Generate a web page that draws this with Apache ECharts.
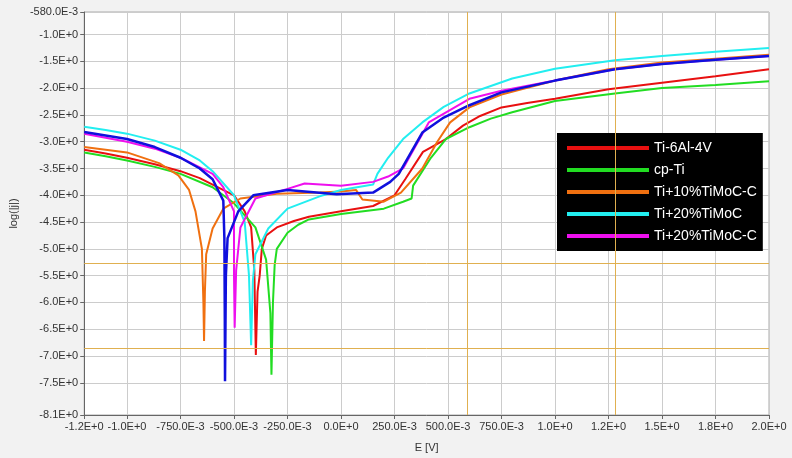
<!DOCTYPE html>
<html><head><meta charset="utf-8">
<script src="https://cdn.jsdelivr.net/npm/echarts@6/dist/echarts.min.js"></script>
<style>html,body{margin:0;padding:0;background:#e8e8e8}#c{width:792px;height:458px}</style>
</head><body><div id="c"></div>
<script>
const seriesNames = ['Ti-6Al-4V','cp-Ti','Ti+10%TiMoC-C','Ti+20%TiMoC','Ti+20%TiMoC-C'];
const colors = ['#e81010','#22dd22','#f07010','#22eef0','#ee10ee'];
const ti64 = [[-1.2,-3.15],[-1.1,-3.22],[-1.0,-3.3],[-0.87,-3.42],[-0.75,-3.55],[-0.66,-3.68],[-0.6,-3.8],[-0.5,-4.0],[-0.45,-4.3],[-0.42,-4.6],[-0.405,-5.4],[-0.398,-6.98],[-0.39,-5.8],[-0.38,-5.5],[-0.37,-5.0],[-0.35,-4.75],[-0.3,-4.6],[-0.22,-4.48],[-0.15,-4.4],[0,-4.3],[0.15,-4.2],[0.25,-4.0],[0.3,-3.7],[0.383,-3.19],[0.49,-2.95],[0.57,-2.7],[0.65,-2.52],[0.75,-2.36],[0.87,-2.28],[1.0,-2.2],[1.25,-2.02],[1.5,-1.9],[1.75,-1.78],[2.0,-1.65]];
const cpTi = [[-1.2,-3.2],[-1.1,-3.27],[-1.0,-3.35],[-0.87,-3.47],[-0.75,-3.6],[-0.6,-3.85],[-0.5,-4.15],[-0.4,-4.6],[-0.35,-5.2],[-0.33,-6.2],[-0.325,-7.35],[-0.318,-6.0],[-0.31,-5.3],[-0.3,-5.0],[-0.25,-4.7],[-0.2,-4.55],[-0.15,-4.45],[0,-4.35],[0.2,-4.25],[0.29,-4.12],[0.33,-4.06],[0.337,-3.82],[0.42,-3.3],[0.49,-2.95],[0.6,-2.73],[0.7,-2.57],[0.8,-2.45],[1.0,-2.24],[1.28,-2.1],[1.5,-2.0],[1.75,-1.94],[2.0,-1.87]];
const ti10 = [[-1.2,-3.1],[-1.0,-3.2],[-0.85,-3.4],[-0.76,-3.63],[-0.71,-3.9],[-0.68,-4.3],[-0.65,-5.0],[-0.643,-6.0],[-0.64,-6.72],[-0.636,-5.8],[-0.63,-5.1],[-0.6,-4.62],[-0.55,-4.25],[-0.47,-4.06],[-0.3,-3.97],[-0.1,-3.95],[0,-3.93],[0.07,-3.9],[0.1,-4.08],[0.2,-4.12],[0.28,-3.95],[0.38,-3.5],[0.45,-3.0],[0.51,-2.64],[0.6,-2.36],[0.75,-2.12],[1.0,-1.86],[1.25,-1.65],[1.5,-1.52],[1.75,-1.45],[2.0,-1.38]];
const ti20 = [[-1.2,-2.72],[-1.1,-2.78],[-1.0,-2.85],[-0.87,-2.98],[-0.75,-3.15],[-0.66,-3.35],[-0.6,-3.55],[-0.5,-4.0],[-0.45,-4.5],[-0.43,-5.5],[-0.42,-6.8],[-0.412,-5.6],[-0.4,-5.1],[-0.34,-4.62],[-0.25,-4.25],[-0.1,-4.02],[0,-3.9],[0.15,-3.8],[0.17,-3.6],[0.22,-3.3],[0.29,-2.95],[0.38,-2.64],[0.48,-2.35],[0.6,-2.1],[0.8,-1.82],[1.0,-1.64],[1.28,-1.48],[1.5,-1.4],[1.75,-1.32],[2.0,-1.25]];
const ti20c = [[-1.2,-2.85],[-1.0,-3.0],[-0.87,-3.13],[-0.75,-3.3],[-0.6,-3.6],[-0.55,-3.85],[-0.5,-4.3],[-0.5,-5.5],[-0.497,-6.47],[-0.49,-5.4],[-0.47,-4.6],[-0.4,-4.06],[-0.25,-3.88],[-0.17,-3.78],[0,-3.82],[0.15,-3.75],[0.22,-3.65],[0.29,-3.5],[0.41,-2.64],[0.6,-2.2],[0.75,-2.05],[1.0,-1.86],[1.28,-1.65],[1.5,-1.55],[1.75,-1.47],[2.0,-1.4]];
const blue = [[-1.2,-2.82],[-1.0,-2.95],[-0.87,-3.1],[-0.75,-3.3],[-0.66,-3.5],[-0.6,-3.7],[-0.55,-4.1],[-0.545,-4.8],[-0.543,-6.3],[-0.542,-7.47],[-0.538,-5.5],[-0.53,-4.8],[-0.48,-4.3],[-0.41,-4.0],[-0.25,-3.9],[-0.02,-3.98],[0.15,-3.95],[0.23,-3.75],[0.27,-3.6],[0.38,-2.83],[0.48,-2.55],[0.6,-2.32],[0.75,-2.08],[1.0,-1.86],[1.28,-1.65],[1.5,-1.55],[1.75,-1.47],[2.0,-1.4]];
const xTickValues = [-1.2,-1.0,-0.75,-0.5,-0.25,0,0.25,0.5,0.75,1.0,1.25,1.5,1.75,2.0];
const xTickLabels = ['-1.2E+0','-1.0E+0','-750.0E-3','-500.0E-3','-250.0E-3','0.0E+0','250.0E-3','500.0E-3','750.0E-3','1.0E+0','1.2E+0','1.5E+0','1.8E+0','2.0E+0'];
const yTickValues = [-0.58,-1,-1.5,-2,-2.5,-3,-3.5,-4,-4.5,-5,-5.5,-6,-6.5,-7,-7.5,-8.1];
const yTickLabels = ['-580.0E-3','-1.0E+0','-1.5E+0','-2.0E+0','-2.5E+0','-3.0E+0','-3.5E+0','-4.0E+0','-4.5E+0','-5.0E+0','-5.5E+0','-6.0E+0','-6.5E+0','-7.0E+0','-7.5E+0','-8.1E+0'];
const cursorX = [0.59,1.28];
const cursorY = [-5.27,-6.85];

const data = [ti64, cpTi, ti10, ti20, ti20c];
const chart = echarts.init(document.getElementById('c'));
const lab = (vals, labels) => v => { const i = vals.findIndex(x => Math.abs(x - v) < 1e-6); return i >= 0 ? labels[i] : ''; };
const cur = {color:'#e0b050', type:'solid', width:1};
const series = data.map((d, i) => ({name: seriesNames[i], type:'line', data:d, showSymbol:false, lineStyle:{width:2, color:colors[i]}, itemStyle:{color:colors[i]}, z:3}));
series.push({name:'blue', type:'line', data:blue, showSymbol:false, lineStyle:{width:2.5,color:'#1010dd'}, itemStyle:{color:'#1010dd'}, z:4});
series.push({type:'line', data:[], z:5, markLine:{silent:true, symbol:'none', label:{show:false}, lineStyle:cur, emphasis:{disabled:true},
  data:[...cursorX.map(x=>({xAxis:x, lineStyle:cur})), ...cursorY.map(y=>({yAxis:y, lineStyle:cur}))]}});
chart.setOption({
  backgroundColor:'#f2f2f2',
  animation:false,
  grid:{left:78,right:23,top:12,bottom:40,show:true,backgroundColor:'#ffffff',borderColor:'#aaa'},
  legend:{data:seriesNames, orient:'vertical', left:557, top:133, width:214, backgroundColor:'#000', padding:[8,6,8,10], itemGap:8,
    itemWidth:82, itemHeight:4, icon:'rect', textStyle:{color:'#fff', fontSize:14, fontFamily:'Liberation Sans'}},
  xAxis:{type:'value', min:-1.2, max:2.0, name:'E [V]', nameLocation:'middle', nameGap:27, nameTextStyle:{fontSize:11,color:'#333'},
    axisLine:{onZero:false,lineStyle:{color:'#666'}},
    axisTick:{customValues:xTickValues,length:4}, axisLabel:{customValues:xTickValues, formatter:lab(xTickValues,xTickLabels), fontSize:11, color:'#333', margin:6},
    splitLine:{show:true, lineStyle:{color:'#cccccc'}}},
  yAxis:{type:'value', min:-8.1, max:-0.58, name:'log(|j|)', nameLocation:'middle', nameGap:62, nameTextStyle:{fontSize:11,color:'#333'},
    axisLine:{show:true,onZero:false,lineStyle:{color:'#666'}},
    axisTick:{show:true,customValues:yTickValues,length:4}, axisLabel:{customValues:yTickValues, formatter:lab(yTickValues,yTickLabels), fontSize:11, color:'#333', margin:6},
    splitLine:{show:true, lineStyle:{color:'#cccccc'}}},
  series
});
</script></body></html>
